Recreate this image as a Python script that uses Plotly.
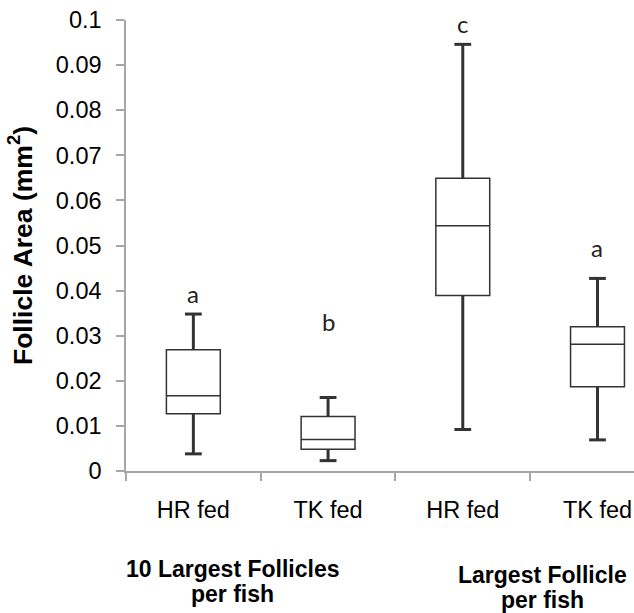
import plotly.graph_objects as go

# ---- data ----
categories = ["HR fed", "TK fed", "HR fed", "TK fed"]
lower_whisker = [0.0038, 0.0023, 0.0092, 0.0069]
q1_values = [0.0127, 0.0048, 0.0389, 0.0187]
median_values = [0.0167, 0.0070, 0.0544, 0.0281]
q3_values = [0.0269, 0.0121, 0.0649, 0.0320]
upper_whisker = [0.0348, 0.0163, 0.0946, 0.0427]
sig_letters = ["a", "b", "c", "a"]
sig_letter_y = [0.0394, 0.0332, 0.0993, 0.0495]
group_line1 = ["10 Largest Follicles", "Largest Follicle"]
group_line2 = ["per fish", "per fish"]
y_ticks = [0, 0.01, 0.02, 0.03, 0.04, 0.05, 0.06, 0.07, 0.08, 0.09, 0.1]

pos = list(range(len(categories)))
AX = "#A6A6A6"
INK = "#333333"
FONT = "Arial, Liberation Sans, sans-serif"

fig = go.Figure()

fig.add_trace(go.Box(
    x=pos, q1=q1_values, median=median_values, q3=q3_values,
    lowerfence=q1_values, upperfence=q3_values,
    width=0.4, whiskerwidth=0, boxpoints=False,
    fillcolor="white", line=dict(color=INK, width=1.5),
    hoverinfo="skip", showlegend=False,
))

# thick whiskers
wx, wy = [], []
for p, lo, a, b, hi in zip(pos, lower_whisker, q1_values, q3_values, upper_whisker):
    wx += [p, p, None, p, p, None]
    wy += [lo, a, None, b, hi, None]
fig.add_trace(go.Scatter(x=wx, y=wy, mode="lines",
                         line=dict(color=INK, width=3),
                         hoverinfo="skip", showlegend=False))
# whisker caps
fig.add_trace(go.Scatter(
    x=pos + pos, y=lower_whisker + upper_whisker, mode="markers",
    marker=dict(symbol="line-ew", size=12, line=dict(color=INK, width=3)),
    hoverinfo="skip", showlegend=False))

for p, t, yv in zip(pos, sig_letters, sig_letter_y):
    fig.add_annotation(x=p, y=yv, text=t, showarrow=False,
                       xanchor="center", yanchor="middle",
                       font=dict(family="Lato, sans-serif", size=24, color="#222222"))

group_x = [0.29, 2.59]
line1_y = [-0.217, -0.231]
line2_y = [-0.272, -0.286]
for gx, y1, y2, t1, t2 in zip(group_x, line1_y, line2_y, group_line1, group_line2):
    for yy, tt in ((y1, t1), (y2, t2)):
        fig.add_annotation(x=gx, xref="x", y=yy, yref="paper", text="<b>" + tt + "</b>",
                           showarrow=False, xanchor="center", yanchor="middle",
                           font=dict(family=FONT, size=23, color="black"))

fig.update_layout(
    width=634, height=613,
    margin=dict(l=126, r=0, t=20, b=142),
    paper_bgcolor="white", plot_bgcolor="white",
    showlegend=False,
    xaxis=dict(
        range=[-0.5, 3.271], tickvals=pos, ticktext=categories,
        ticks="", showline=True, linecolor=AX, linewidth=1.5,
        showgrid=False, zeroline=False, automargin=False,
        ticklabeloverflow="allow",
        tickfont=dict(family=FONT, size=23.5, color="black"),
        ticklabelstandoff=17,
        minor=dict(tickvals=[-0.5, 0.5, 1.5, 2.5], ticks="outside",
                   ticklen=8, tickcolor=AX, tickwidth=1.5, showgrid=False),
    ),
    yaxis=dict(
        range=[0, 0.1], tickvals=y_ticks,
        ticktext=[("%g" % v) for v in y_ticks],
        ticks="outside", ticklen=8, tickcolor=AX, tickwidth=1.5,
        showline=True, linecolor=AX, linewidth=1.5,
        showgrid=False, zeroline=False, automargin=False,
        ticklabeloverflow="allow",
        tickfont=dict(family=FONT, size=23.5, color="black"),
        ticklabelstandoff=10,
        title=dict(text="<b>Follicle Area (mm<sup>2</sup>)</b>", standoff=16,
                   font=dict(family=FONT, size=26.5, color="black")),
    ),
)

# remove the default page margin so the figure fills the window exactly
fig.write_html("out.html",
               config={"displayModeBar": False},
               post_script="document.body.style.margin='0';document.body.style.overflow='hidden';")
